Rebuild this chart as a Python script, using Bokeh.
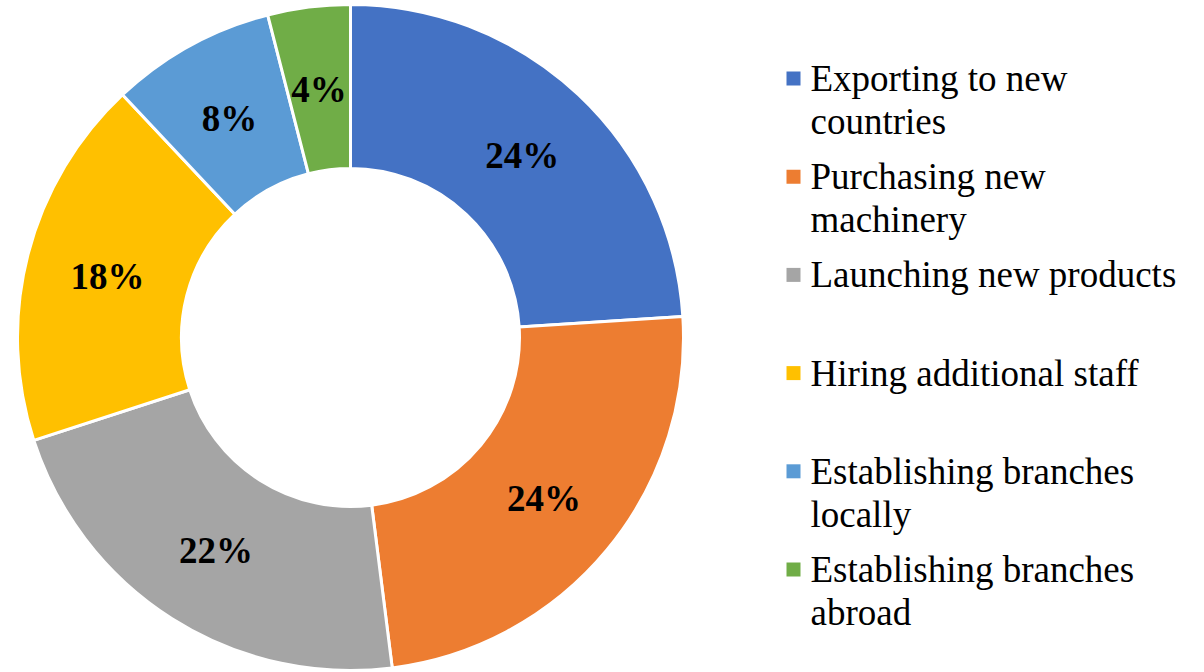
import math
from bokeh.plotting import figure
from bokeh.models import ColumnDataSource, Range1d
from bokeh.core.properties import value
from bokeh.embed import file_html
from bokeh.resources import INLINE

categories = ["Exporting to new countries", "Purchasing new machinery",
              "Launching new products", "Hiring additional staff",
              "Establishing branches locally", "Establishing branches abroad"]
legend_lines = [["Exporting to new", "countries"],
                ["Purchasing new", "machinery"],
                ["Launching new products"],
                ["Hiring additional staff"],
                ["Establishing branches", "locally"],
                ["Establishing branches", "abroad"]]
values = [24, 24, 22, 18, 8, 4]
colors = ["#4472C4", "#ED7D31", "#A5A5A5", "#FFC000", "#5B9BD5", "#70AD47"]

W, H = 1204, 672
p = figure(width=W, height=H, output_backend="svg", toolbar_location=None,
           x_range=Range1d(0, W), y_range=Range1d(0, H), min_border=0)
p.axis.visible = False
p.grid.visible = False
p.outline_line_color = None
p.background_fill_color = "white"

cx, cy = 350, H - 337
r_out, r_in = 333, 169
total = sum(values)
starts, ends, lx, ly, labels = [], [], [], [], []
cum = 0
for v in values:
    a0 = math.pi / 2 - 2 * math.pi * cum / total
    cum += v
    a1 = math.pi / 2 - 2 * math.pi * cum / total
    starts.append(a0)
    ends.append(a1)
    am = (a0 + a1) / 2
    rm = 251
    lx.append(cx + rm * math.cos(am))
    ly.append(cy + rm * math.sin(am) - 1)
    labels.append(f"{v}%")

src = ColumnDataSource(dict(x=[cx] * len(values), y=[cy] * len(values),
                            start=starts, end=ends, color=colors))
p.annular_wedge(x="x", y="y", inner_radius=r_in, outer_radius=r_out,
                start_angle="start", end_angle="end", direction="clock",
                fill_color="color", line_color="white", line_width=3, source=src)

p.text(x=lx, y=ly, text=labels, text_font=value("Liberation Serif"),
       text_font_style="bold", text_font_size="37px", text_align="center",
       text_baseline="middle", text_color="black")

# legend
leg_x_marker = 793
leg_x_text = 810
first_base = H - 89
step = 98.2
line_gap = 42.7
text_shift = 11
mx, my, tx, ty, tt = [], [], [], [], []
for i, lines in enumerate(legend_lines):
    yb = first_base - step * i
    mx.append(leg_x_marker)
    my.append(yb + 11)
    for j, ln in enumerate(lines):
        tx.append(leg_x_text)
        ty.append(yb - line_gap * j + text_shift)
        tt.append(ln)
p.scatter(x=mx, y=my, marker="square", size=14, fill_color=colors, line_color=None)
p.text(x=tx, y=ty, text=tt, text_font=value("Liberation Serif"),
       text_font_size="37px", text_align="left", text_baseline="alphabetic",
       text_color="black")

open("out.html", "w").write(file_html(p, INLINE))
